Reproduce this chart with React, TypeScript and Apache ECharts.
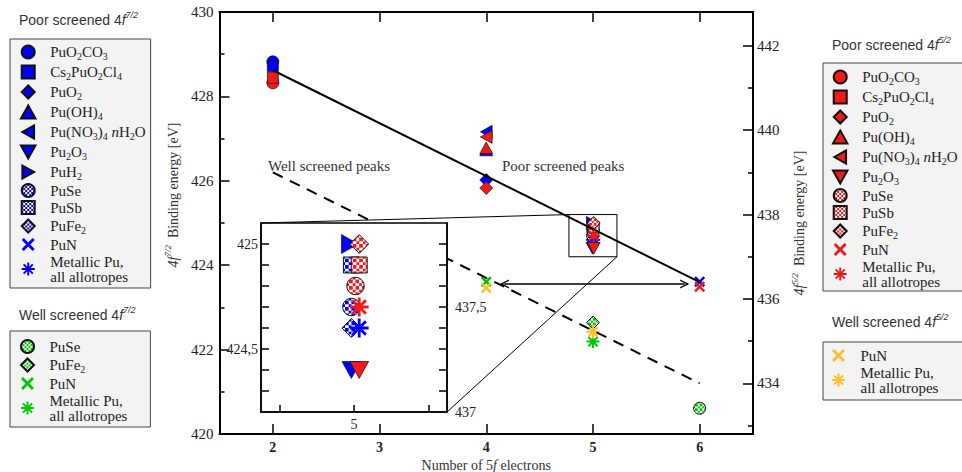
import React, { useEffect, useRef } from 'react';
import * as echarts from 'echarts';

// ---------------- data ----------------
const X_TICKS = [2, 3, 4, 5, 6];
const RIGHT_Y_MAJOR = [434, 436, 438, 440, 442];
const RIGHT_Y_MINOR = [433, 435, 437, 439, 441];
const INSET_X_TICKS = [4.9, 5, 5.1];
const INSET_X_LABELS = [5];
const INSET_LEFT_TICKS = [424.3, 424.4, 424.5, 424.6, 424.7, 424.8, 424.9, 425];
const INSET_LEFT_LABELS = [424.5, 425];
const INSET_RIGHT_TICKS = [437.1, 437.2, 437.3, 437.4, 437.5, 437.6, 437.7, 437.8];
const INSET_RIGHT_LABELS = [437, 437.5];

// Poor screened 4f7/2 (left axis)
const POOR_72_NAMES = ['PuO2CO3', 'Cs2PuO2Cl4', 'PuO2', 'Pu(OH)4', 'Pu(NO3)4 nH2O', 'Pu2O3', 'PuH2', 'PuSe', 'PuSb', 'PuFe2', 'PuN', 'Metallic Pu'];
const POOR_72_X = [2, 2, 4, 4, 4, 4.9965, 4.9945, 4.9965, 4.9965, 4.9965, 6, 5.007];
const POOR_72_Y = [428.82, 428.72, 426.02, 426.73, 427.16, 424.4, 425.0, 424.7, 424.9, 424.6, 423.61, 424.6];
// Poor screened 4f5/2 (right axis)
const POOR_52_NAMES = ['PuO2CO3', 'Cs2PuO2Cl4', 'PuO2', 'Pu(OH)4', 'Pu(NO3)4 nH2O', 'Pu2O3', 'PuSe', 'PuSb', 'PuFe2', 'PuN', 'Metallic Pu'];
const POOR_52_X = [2, 2, 4, 4, 4, 5.007, 5.002, 5.007, 5.007, 6, 5.007];
const POOR_52_Y = [441.12, 441.24, 438.63, 439.58, 439.84, 437.2, 437.6, 437.7, 437.8, 436.29, 437.5];
// Well screened 4f7/2 (left axis)
const WELL_72_NAMES = ['PuSe', 'PuFe2', 'PuN', 'Metallic Pu'];
const WELL_72_X = [6, 5, 4, 5];
const WELL_72_Y = [420.61, 422.64, 423.61, 422.19];
// Well screened 4f5/2 (right axis)
const WELL_52_NAMES = ['PuN', 'Metallic Pu'];
const WELL_52_X = [4, 5];
const WELL_52_Y = [436.26, 435.22];
// guide lines
const POOR_FIT_X = [2, 6];
const POOR_FIT_Y = [428.62, 423.6];
const WELL_FIT_X = [2, 6];
const WELL_FIT_Y = [426.2, 421.2];
const ARROW_X = [4.17, 5.86];
const ARROW_Y = 423.555;
const ZOOM_X = [4.775, 5.225];
const ZOOM_Y = [424.2, 425.2];

// ---------------- styles ----------------
const SERIF = '"Liberation Serif", "Times New Roman", serif';
const SANS = '"Liberation Sans", Arial, sans-serif';
const BLUE = '#0000ff';
const RED = '#f01a1a';
const GREEN = '#00c800';
const ORANGE = '#ffbe2a';

const MAIN = { left: 219.5, top: 12, width: 533.5, height: 422 };
const INSET = { left: 261, top: 223, width: 186, height: 189 };

const SYMBOL: Record<string, string> = {
  circle: 'circle',
  square: 'path://M0,0 L10,0 L10,10 L0,10 Z',
  diamond: 'path://M5,0 L10,5 L5,10 L0,5 Z',
  up: 'path://M5,0 L10,9 L0,9 Z',
  down: 'path://M0,0 L10,0 L5,9 Z',
  left: 'path://M9,0 L9,10 L0,5 Z',
  right: 'path://M0,0 L9,5 L0,10 Z',
  cross: 'path://M0,1.6 L1.6,0 L5,3.4 L8.4,0 L10,1.6 L6.6,5 L10,8.4 L8.4,10 L5,6.6 L1.6,10 L0,8.4 L3.4,5 Z',
  star: 'path://M0,8.5 L20,8.5 L20,11.5 L0,11.5 Z M8.5,0 L11.5,0 L11.5,20 L8.5,20 Z M1.84,3.96 L3.96,1.84 L18.16,16.04 L16.04,18.16 Z M16.04,1.84 L18.16,3.96 L3.96,18.16 L1.84,16.04 Z',
};
const SIZE: Record<string, number> = { circle: 12, square: 11, diamond: 13, up: 13, down: 13, left: 13, right: 13, cross: 11, star: 13 };
const SHAPE: Record<string, { kind: string; checker?: boolean }> = {
  'PuO2CO3': { kind: 'circle' },
  'Cs2PuO2Cl4': { kind: 'square' },
  'PuO2': { kind: 'diamond' },
  'Pu(OH)4': { kind: 'up' },
  'Pu(NO3)4 nH2O': { kind: 'left' },
  'Pu2O3': { kind: 'down' },
  'PuH2': { kind: 'right' },
  'PuSe': { kind: 'circle', checker: true },
  'PuSb': { kind: 'square', checker: true },
  'PuFe2': { kind: 'diamond', checker: true },
  'PuN': { kind: 'cross' },
  'Metallic Pu': { kind: 'star' },
};
const LEGEND_LABEL: Record<string, string> = {
  'PuO2CO3': '{n|PuO}{s|2}{n|CO}{s|3}',
  'Cs2PuO2Cl4': '{n|Cs}{s|2}{n|PuO}{s|2}{n|Cl}{s|4}',
  'PuO2': '{n|PuO}{s|2}',
  'Pu(OH)4': '{n|Pu(OH)}{s|4}',
  'Pu(NO3)4 nH2O': '{n|Pu(NO}{s|3}{n|)}{s|4}{n| }{i|n}{n|H}{s|2}{n|O}',
  'Pu2O3': '{n|Pu}{s|2}{n|O}{s|3}',
  'PuH2': '{n|PuH}{s|2}',
  'PuSe': '{n|PuSe}',
  'PuSb': '{n|PuSb}',
  'PuFe2': '{n|PuFe}{s|2}',
  'PuN': '{n|PuN}',
  'Metallic Pu': '{n|Metallic Pu,}\n{n|all allotropes}',
};

function checker(color: string, cell: number, symbolSize: number | null) {
  const svg = `<svg xmlns="http://www.w3.org/2000/svg" width="4" height="4" shape-rendering="crispEdges"><rect width="4" height="4" fill="#ffffff"/><rect width="2" height="2" fill="${color}"/><rect x="2" y="2" width="2" height="2" fill="${color}"/></svg>`;
  const url = 'data:image/svg+xml;charset=utf-8,' + encodeURIComponent(svg);
  const s = symbolSize ? (cell / 2) * (2 / symbolSize) : cell / 2;
  return { image: url, repeat: 'repeat', imageWidth: 4, imageHeight: 4, scaleX: s, scaleY: s };
}

function scatterSeries(group: string, names: string[], xs: number[], ys: number[], color: string,
  xAxisIndex: number, yAxisIndex: number, scale: number, z: number, inset: boolean) {
  const out: any[] = [];
  names.forEach((n, i) => {
    if (inset && !(xs[i] > 4.875 && xs[i] < 5.125)) return;
    const shp = SHAPE[n];
    const size = SIZE[shp.kind] * scale;
    const lineLike = shp.kind === 'cross' || shp.kind === 'star';
    const fill = shp.checker ? checker(color, inset ? 3.2 : 2.3, size) : color;
    out.push({
      type: 'scatter',
      name: `${group}|${n}`,
      xAxisIndex, yAxisIndex, z,
      symbol: SYMBOL[shp.kind],
      symbolSize: size,
      symbolKeepAspect: true,
      itemStyle: {
        color: fill,
        borderColor: lineLike ? 'transparent' : '#111',
        borderWidth: lineLike ? 0 : (shp.checker ? 1 : 0.7),
        opacity: 1,
      },
      emphasis: { disabled: true },
      silent: true,
      data: [[xs[i], ys[i]]],
    });
  });
  return out;
}

function legendData(group: string, names: string[], color: string) {
  return names.map((n) => {
    const item: any = { name: `${group}|${n}` };
    if (SHAPE[n].checker) item.itemStyle = { color: checker(color, 2, null) };
    return item;
  });
}

const legendRich = {
  n: { fontFamily: SERIF, fontSize: 15, lineHeight: 15, color: '#222' },
  i: { fontFamily: SERIF, fontSize: 15, lineHeight: 15, fontStyle: 'italic', color: '#222' },
  s: { fontFamily: SERIF, fontSize: 10, lineHeight: 19, padding: [8, 0, 0, 0], color: '#222' },
};
const headRich = {
  h: { fontFamily: SANS, fontSize: 14, fontWeight: 'normal', color: '#333' },
  i: { fontFamily: SANS, fontSize: 14, fontWeight: 'normal', fontStyle: 'italic', color: '#333' },
  s: { fontFamily: SANS, fontSize: 9, fontWeight: 'normal', fontStyle: 'italic', color: '#333', padding: [0, 0, 10, 0] },
  a: { fontFamily: SERIF, fontSize: 15, fontWeight: 'normal', color: '#333' },
};
const nameRich = {
  n: { fontFamily: SERIF, fontSize: 14, color: '#333' },
  i: { fontFamily: SERIF, fontSize: 14, fontStyle: 'italic', color: '#333' },
  s: { fontFamily: SERIF, fontSize: 9, fontStyle: 'italic', color: '#333', padding: [0, 0, 10, 0] },
};

const AXIS_LINE = { show: true, onZero: false, lineStyle: { color: '#000', width: 2 } };
const TICK_STYLE = { color: '#000', width: 1.5 };
const LABEL = { fontFamily: SERIF, fontSize: 15, color: '#222' };
const comma = (v: number) => String(v).replace('.', ',');

function buildOption(): any {
  const legendBase = {
    orient: 'vertical', selectedMode: false, itemWidth: 34, itemHeight: 13, itemGap: 2,
    backgroundColor: '#f3f3f3', borderColor: '#444', borderWidth: 1, borderRadius: 0,
    textStyle: { fontFamily: SERIF, fontSize: 15, color: '#222', rich: legendRich },
    formatter: (name: string) => LEGEND_LABEL[name.split('|')[1]],
  };
  const titleStyle = { fontWeight: 'normal', rich: headRich };
  const series: any[] = [
    ...scatterSeries('P72', POOR_72_NAMES, POOR_72_X, POOR_72_Y, BLUE, 0, 0, 1, 2, false),
    ...scatterSeries('P52', POOR_52_NAMES, POOR_52_X, POOR_52_Y, RED, 0, 1, 1, 2, false),
    ...scatterSeries('W72', WELL_72_NAMES, WELL_72_X, WELL_72_Y, GREEN, 0, 0, 1, 2, false),
    ...scatterSeries('W52', WELL_52_NAMES, WELL_52_X, WELL_52_Y, ORANGE, 0, 1, 1, 2, false),
    {
      type: 'line', name: 'poor-fit', xAxisIndex: 0, yAxisIndex: 0, z: 3, silent: true, symbol: 'none',
      lineStyle: { color: '#000', width: 2 },
      data: POOR_FIT_X.map((x, i) => [x, POOR_FIT_Y[i]]),
    },
    {
      type: 'line', name: 'well-fit', xAxisIndex: 0, yAxisIndex: 0, z: 3, silent: true, symbol: 'none',
      lineStyle: { color: '#000', width: 2, type: [11, 8] },
      data: WELL_FIT_X.map((x, i) => [x, WELL_FIT_Y[i]]),
    },
    {
      type: 'line', name: 'zoom-box', xAxisIndex: 0, yAxisIndex: 0, z: 3, silent: true, symbol: 'none',
      lineStyle: { color: '#000', width: 1 },
      data: [
        [ZOOM_X[0], ZOOM_Y[1]], [ZOOM_X[1], ZOOM_Y[1]], [ZOOM_X[1], ZOOM_Y[0]],
        [ZOOM_X[0], ZOOM_Y[0]], [ZOOM_X[0], ZOOM_Y[1]],
      ],
      markLine: {
        silent: true,
        symbol: ['path://M0,10 L5,0 L10,10 L8.4,10 L5,3.2 L1.6,10 Z', 'path://M0,10 L5,0 L10,10 L8.4,10 L5,3.2 L1.6,10 Z'],
        symbolSize: [9, 9],
        label: { show: false },
        emphasis: { disabled: true },
        lineStyle: { color: '#000', width: 1.5, type: 'solid' },
        data: [[{ coord: [ARROW_X[0], ARROW_Y] }, { coord: [ARROW_X[1], ARROW_Y] }]],
      },
    },
    ...scatterSeries('P72', POOR_72_NAMES, POOR_72_X, POOR_72_Y, BLUE, 2, 3, 1.45, 12, true),
    ...scatterSeries('P52', POOR_52_NAMES, POOR_52_X, POOR_52_Y, RED, 2, 4, 1.45, 12, true),
  ];

  return {
    animation: false,
    backgroundColor: '#ffffff',
    title: [
      { text: '{h|Poor screened 4}{i|f}{s|7/2}', left: 14, top: 5.5, textStyle: titleStyle },
      { text: '{h|Well screened 4}{i|f}{s|7/2}', left: 14, top: 300.5, textStyle: titleStyle },
      { text: '{h|Poor screened 4}{i|f}{s|5/2}', left: 827, top: 30.5, textStyle: titleStyle },
      { text: '{h|Well screened 4}{i|f}{s|5/2}', left: 827, top: 307, textStyle: titleStyle },
      { text: '{a|Well screened peaks}', left: 263, top: 153.5, textStyle: titleStyle },
      { text: '{a|Poor screened peaks}', left: 497, top: 153.5, textStyle: titleStyle },
    ],
    legend: [
      { ...legendBase, left: 10, top: 39, padding: [4, 5, 4, 10], data: legendData('P72', POOR_72_NAMES, BLUE) },
      { ...legendBase, left: 10, top: 331, padding: [8, 23, 4, 10], data: legendData('W72', WELL_72_NAMES, GREEN) },
      { ...legendBase, left: 823, top: 63, padding: [5, 20, 2, 9], data: legendData('P52', POOR_52_NAMES, RED) },
      { ...legendBase, left: 823, top: 342, padding: [6, 30, 5, 9], data: legendData('W52', WELL_52_NAMES, ORANGE) },
    ],
    grid: [
      { ...MAIN, show: false, outerBoundsMode: 'none' },
      { ...INSET, show: true, z: 10, backgroundColor: '#ffffff', borderColor: '#000', borderWidth: 1.5, outerBoundsMode: 'none' },
    ],
    xAxis: [
      {
        type: 'value', gridIndex: 0, position: 'bottom', min: 1.5, max: 6.5,
        axisLine: AXIS_LINE,
        axisTick: { show: true, inside: true, length: 10, customValues: X_TICKS, lineStyle: TICK_STYLE },
        axisLabel: { customValues: X_TICKS, margin: 6, fontFamily: SERIF, fontSize: 14, fontWeight: 'bold', color: '#222' },
        splitLine: { show: false },
        name: '{n|Number of 5}{i|f}{n| electrons}', nameLocation: 'middle', nameGap: 22,
        nameTextStyle: { rich: nameRich },
      },
      {
        type: 'value', gridIndex: 0, position: 'top', min: 1.5, max: 6.5,
        axisLine: AXIS_LINE,
        axisTick: { show: true, inside: true, length: 10, customValues: X_TICKS, lineStyle: TICK_STYLE },
        axisLabel: { show: false },
        splitLine: { show: false },
      },
      {
        type: 'value', gridIndex: 1, position: 'bottom', min: 4.875, max: 5.125, z: 11,
        axisLine: { show: true, onZero: false, lineStyle: { color: '#000', width: 1.5 } },
        axisTick: { show: true, inside: true, length: 7, customValues: INSET_X_TICKS, lineStyle: TICK_STYLE },
        axisLabel: { customValues: INSET_X_LABELS, margin: 5, ...LABEL, fontSize: 14 },
        splitLine: { show: false },
      },
    ],
    yAxis: [
      {
        type: 'value', gridIndex: 0, position: 'left', min: 420, max: 430, interval: 2,
        axisLine: AXIS_LINE,
        axisTick: { show: true, inside: true, length: 10, lineStyle: TICK_STYLE },
        minorTick: { show: true, splitNumber: 2, length: 5, lineStyle: TICK_STYLE },
        axisLabel: { margin: 6, ...LABEL },
        splitLine: { show: false },
        name: '{i|4f}{s|7/2}{n|  Binding energy [eV]}', nameLocation: 'middle', nameRotate: 90, nameGap: 26,
        nameTextStyle: { rich: nameRich, padding: [0, 0, 0, 56] },
      },
      {
        type: 'value', gridIndex: 0, position: 'right', min: 432.8, max: 442.8,
        axisLine: AXIS_LINE,
        axisTick: { show: true, inside: true, length: 10, customValues: RIGHT_Y_MAJOR, lineStyle: TICK_STYLE },
        axisLabel: { customValues: RIGHT_Y_MAJOR, margin: 4, ...LABEL },
        splitLine: { show: false },
        name: '{i|4f}{s|5/2}{n|  Binding energy [eV]}', nameLocation: 'middle', nameRotate: 90, nameGap: 36,
        nameTextStyle: { rich: nameRich },
      },
      {
        type: 'value', gridIndex: 0, position: 'right', min: 432.8, max: 442.8,
        axisLine: { show: false },
        axisTick: { show: true, inside: true, length: 5, customValues: RIGHT_Y_MINOR, lineStyle: TICK_STYLE },
        axisLabel: { show: false },
        splitLine: { show: false },
      },
      {
        type: 'value', gridIndex: 1, position: 'left', min: 424.2, max: 425.1, z: 11,
        axisLine: { show: true, onZero: false, lineStyle: { color: '#000', width: 1.5 } },
        axisTick: { show: true, inside: true, length: 8, customValues: INSET_LEFT_TICKS, lineStyle: TICK_STYLE },
        axisLabel: { customValues: INSET_LEFT_LABELS, margin: 3, ...LABEL, fontSize: 14, formatter: comma },
        splitLine: { show: false },
      },
      {
        type: 'value', gridIndex: 1, position: 'right', min: 437.0, max: 437.9, z: 11,
        axisLine: { show: true, onZero: false, lineStyle: { color: '#000', width: 1.5 } },
        axisTick: { show: true, inside: true, length: 8, customValues: INSET_RIGHT_TICKS, lineStyle: TICK_STYLE },
        axisLabel: { customValues: INSET_RIGHT_LABELS, margin: 8, ...LABEL, fontSize: 14, formatter: comma },
        splitLine: { show: false },
      },
    ],
    series,
  };
}

export default function App() {
  const ref = useRef<HTMLDivElement>(null);
  useEffect(() => {
    if (!ref.current) return;
    const chart = echarts.init(ref.current, null, { renderer: 'svg' });
    chart.setOption(buildOption());
    const tl = chart.convertToPixel({ xAxisIndex: 0, yAxisIndex: 0 } as any, [ZOOM_X[0], ZOOM_Y[1]]) as number[];
    const br = chart.convertToPixel({ xAxisIndex: 0, yAxisIndex: 0 } as any, [ZOOM_X[1], ZOOM_Y[0]]) as number[];
    chart.setOption({
      graphic: [
        {
          type: 'line', z: 15, silent: true,
          shape: { x1: INSET.left, y1: INSET.top, x2: tl[0], y2: tl[1] },
          style: { stroke: '#000', lineWidth: 1 },
        },
        {
          type: 'line', z: 15, silent: true,
          shape: { x1: INSET.left + INSET.width, y1: INSET.top + INSET.height, x2: br[0], y2: br[1] },
          style: { stroke: '#000', lineWidth: 1 },
        },
      ],
    });
    return () => chart.dispose();
  }, []);
  return <div ref={ref} style={{ position: 'fixed', left: 0, top: 0, width: 962, height: 472 }} />;
}
